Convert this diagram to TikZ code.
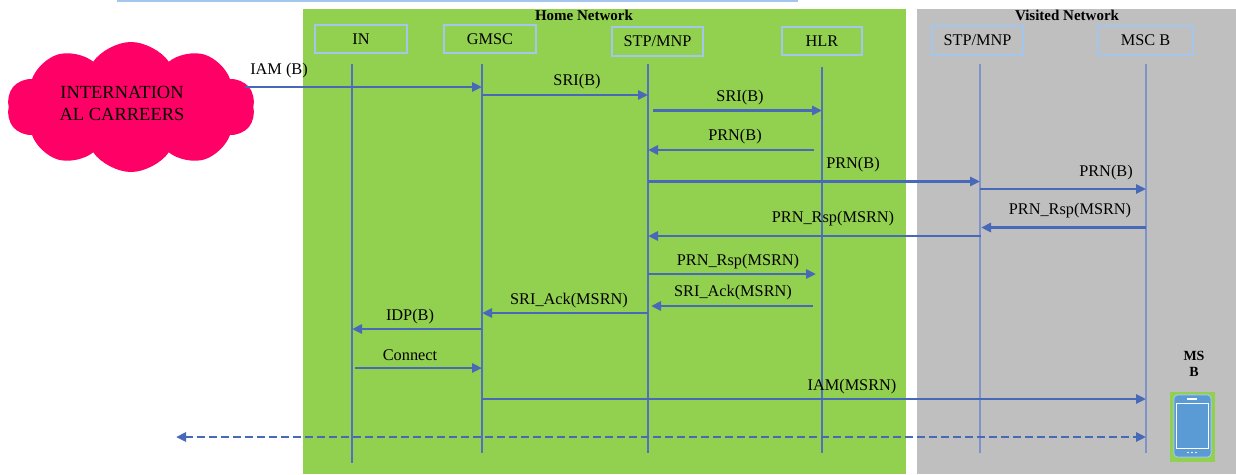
\documentclass[tikz,border=0pt]{standalone}
\usepackage{fontspec}
\setmainfont{Liberation Serif}
\usetikzlibrary{arrows.meta,shapes.symbols}
\definecolor{homegreen}{HTML}{92D050}
\definecolor{visgray}{HTML}{BFBFBF}
\definecolor{msgblue}{HTML}{4868B8}
\definecolor{lifeblue}{HTML}{5070C0}
\definecolor{lifeblue2}{HTML}{7D93C9}
\definecolor{boxblue}{HTML}{A5C6EC}
\definecolor{cloudpink}{HTML}{FF0066}
\definecolor{phoneblue}{HTML}{5B9BD5}
\begin{document}
\begin{tikzpicture}[x=1pt,y=-1pt,
  font=\fontsize{16.3}{19}\selectfont,
  panel/.style={inner sep=0pt,anchor=north west},
  header/.style={font=\bfseries\fontsize{15}{17}\selectfont,text=black,inner sep=0pt},
  entity/.style={draw=boxblue,line width=1.2pt,inner sep=0pt,text=black,minimum height=28},
  life/.style={draw=lifeblue,line width=1.1pt},
  lifev/.style={draw=lifeblue2,line width=1.6pt},
  tipshape/.tip={Triangle[length=10pt,width=9pt]},
  msg/.style={draw=msgblue,line width=2.9pt,-tipshape},
  mlabel/.style={inner sep=0pt,text=black},
  ]
\useasboundingbox (0,0) rectangle (1236,474);

% panels
\node[panel,fill=homegreen,minimum width=603,minimum height=465] (home) at (303,9) {};
\node[panel,fill=visgray,minimum width=319,minimum height=465] (visited) at (917,9) {};
\draw[boxblue,line width=2pt] (117,1) -- (798,1);
\node[header] (homet) at (584,15) {Home Network};
\node[header] (vist) at (1067,15) {Visited Network};

% entities
\node[entity,minimum width=92] (IN) at (361,39) {IN};
\node[entity,minimum width=92] (GMSC) at (490,39) {GMSC};
\node[entity,minimum width=91,minimum height=29] (STPh) at (657.5,41.5) {STP/MNP};
\node[entity,minimum width=80] (HLR) at (822,41) {HLR};
\node[entity,minimum width=91,minimum height=29] (STPv) at (977.5,40.5) {STP/MNP};
\node[entity,minimum width=95,minimum height=29] (MSCB) at (1145.5,40.5) {MSC B};

% lifelines
\coordinate (lIN) at (352,64);     \coordinate (lINb) at (352,463);
\coordinate (lGMSC) at (482,64);   \coordinate (lGMSCb) at (482,453);
\coordinate (lSTPh) at (648,64);   \coordinate (lSTPhb) at (648,453);
\coordinate (lHLR) at (822,67);    \coordinate (lHLRb) at (822,453);
\coordinate (lSTPv) at (980,64);   \coordinate (lSTPvb) at (980,453);
\coordinate (lMSC) at (1146,64);   \coordinate (lMSCb) at (1146,453);
\draw[life] (lIN) -- (lINb);
\draw[life] (lGMSC) -- (lGMSCb);
\draw[life] (lSTPh) -- (lSTPhb);
\draw[life] (lHLR) -- (lHLRb);
\draw[lifev] (lSTPv) -- (lSTPvb);
\draw[lifev] (lMSC) -- (lMSCb);

% cloud
\node[cloud,cloud puffs=10,cloud puff arc=110,aspect=2,fill=cloudpink,
      minimum width=248,minimum height=130,inner sep=0pt] (cloud) at (131,107) {};
\node[mlabel,align=center,font=\fontsize{18.5}{22}\selectfont] (cloudtxt) at (122,103) {INTERNATION\\AL CARREERS};

% messages
\draw[msg] ([xshift=-8pt]cloud.east |- 0,87) -- (lGMSC |- 0,87);
\node[mlabel] (m1) at (279,71) {IAM (B)};
\draw[msg] (lGMSC |- 0,95) -- (lSTPh |- 0,95);
\node[mlabel] (m2) at (577,82) {SRI(B)};
\draw[msg] ([xshift=5pt]lSTPh |- 0,110.5) -- (lHLR |- 0,110.5);
\node[mlabel] (m3) at (740,98) {SRI(B)};
\draw[msg] ([xshift=-8pt]lHLR |- 0,150) -- (lSTPh |- 0,150);
\node[mlabel] (m4) at (735,137) {PRN(B)};
\draw[msg] (lSTPh |- 0,181.5) -- (lSTPv |- 0,181.5);
\node[mlabel] (m5) at (853,165) {PRN(B)};
\draw[msg] (lSTPv |- 0,189) -- (lMSC |- 0,189);
\node[mlabel] (m6) at (1106,173) {PRN(B)};
\draw[msg] (lMSC |- 0,227.5) -- ([xshift=1pt]lSTPv |- 0,227.5);
\node[mlabel] (m7) at (1070,211) {PRN\_Rsp(MSRN)};
\draw[msg] ([xshift=1pt]lSTPv |- 0,236) -- (lSTPh |- 0,236);
\node[mlabel] (m8) at (833,219) {PRN\_Rsp(MSRN)};
\draw[msg] (lSTPh |- 0,274) -- ([xshift=-6pt]lHLR |- 0,274);
\node[mlabel] (m9) at (738,262) {PRN\_Rsp(MSRN)};
\draw[msg] ([xshift=-9pt]lHLR |- 0,306) -- ([xshift=3pt]lSTPh |- 0,306);
\node[mlabel] (m10) at (733,293) {SRI\_Ack(MSRN)};
\draw[msg] (lSTPh |- 0,313) -- (lGMSC |- 0,313);
\node[mlabel] (m11) at (569,301) {SRI\_Ack(MSRN)};
\draw[msg] (lGMSC |- 0,329) -- (lIN |- 0,329);
\node[mlabel] (m12) at (410,317) {IDP(B)};
\draw[msg] ([xshift=3pt]lIN |- 0,368) -- (lGMSC |- 0,368);
\node[mlabel] (m13) at (410,355) {Connect};
\draw[msg] (lGMSC |- 0,399) -- (lMSC |- 0,399);
\node[mlabel] (m14) at (852,387) {IAM(MSRN)};
\coordinate (dashend) at (176,437);
\draw[msg,tipshape-tipshape,dash pattern=on 8pt off 4pt] (dashend) -- (lMSC |- 0,437);

% mobile station
\node[header,align=center,font=\bfseries\fontsize{14}{16}\selectfont] (msb) at (1194,364) {MS\\B};
\node[fill=homegreen,minimum width=45,minimum height=70,inner sep=0pt] (phone) at (1192.5,427) {};
\draw[fill=phoneblue,draw=phoneblue!55!white,line width=1pt,rounded corners=4pt]
  ([xshift=4pt,yshift=-3pt]phone.north west) rectangle ([xshift=-4pt,yshift=5pt]phone.south east);
\draw[white,line width=1pt] (1176.5,403) rectangle (1208,448);
\draw[white,line width=1.2pt] (1187,399) -- (1197,399);
\foreach \dx in {1188,1192,1196} \fill[white] (\dx,452.5) circle (0.9);
\end{tikzpicture}
\end{document}
